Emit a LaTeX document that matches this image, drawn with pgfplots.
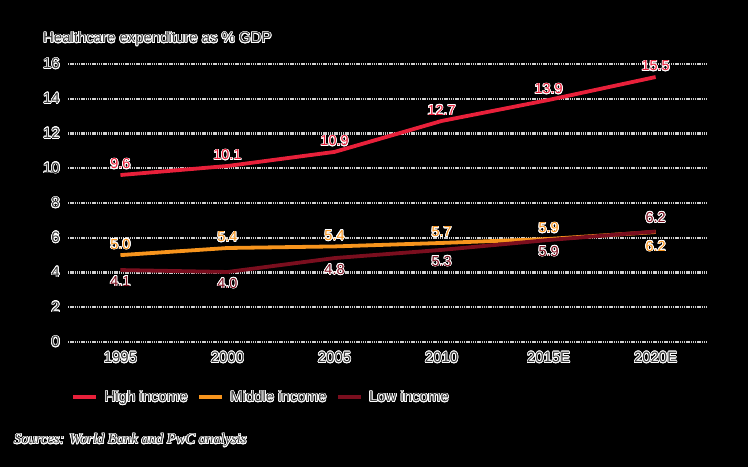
\documentclass[border=0pt]{standalone}
\usepackage{fontspec}
\setmainfont{Liberation Sans}
\newfontfamily\srcfont{Liberation Serif}
\usepackage{pgfplots}
\pgfplotsset{compat=1.18}
\usepackage{contour}
\contourlength{0.7pt}
\contournumber{20}
\definecolor{hi}{HTML}{E8203A}
\definecolor{mid}{HTML}{F7941D}
\definecolor{lo}{HTML}{7A0E1E}
\definecolor{txt}{HTML}{3A3A3A}
\newcommand{\ct}[1]{\contour{white}{#1}}

\pgfplotsset{
  lblabove/.style={draw=none, forget plot, point meta=explicit symbolic,
    nodes near coords={\ct{\pgfplotspointmeta}},
    every node near coord/.append style={inner sep=0pt, anchor=south, yshift=5bp, font=\fontsize{14.5}{16}\selectfont, text=#1}},
  lblbelow/.style={draw=none, forget plot, point meta=explicit symbolic,
    nodes near coords={\ct{\pgfplotspointmeta}},
    every node near coord/.append style={inner sep=0pt, anchor=north, yshift=-6bp, font=\fontsize{14.5}{16}\selectfont, text=#1}},
  dline/.style={#1, forget plot, line width=3.8bp, mark=none},
}

\begin{document}
\begin{tikzpicture}[x=1bp,y=1bp]
\fill[black] (0,0) rectangle (748,467);
\useasboundingbox (0,0) rectangle (748,467);
\node[anchor=base west, inner sep=0pt, text=txt, font=\fontsize{15}{17}\selectfont] at (43,424) {\ct{Healthcare expenditure as \% GDP}};
\node[anchor=base west, inner sep=0pt, text=txt, font=\srcfont\itshape\fontsize{14.6}{16}\selectfont] at (14,23) {\ct{Sources: World Bank and PwC analysis}};
\begin{axis}[
  at={(68bp,125bp)}, anchor=south west,
  scale only axis, width=639bp, height=278bp,
  xmin=-0.49, xmax=5.48, ymin=0, ymax=16,
  clip=false,
  axis line style={draw=none},
  major tick length=0pt,
  ytick={0,2,...,16},
  yticklabels={\ct{0},\ct{2},\ct{4},\ct{6},\ct{8},\ct{10},\ct{12},\ct{14},\ct{16}},
  xtick={0,1,2,3,4,5},
  xticklabels={\ct{1995},\ct{2000},\ct{2005},\ct{2010},\ct{2015E},\ct{2020E}},
  ymajorgrids,
  grid style={draw=white!62!gray, line width=2.2bp, dash pattern=on 1.3bp off 0.9bp},
  tick label style={text=txt, font=\fontsize{15}{17}\selectfont},
  yticklabel style={inner sep=0pt, xshift=-8bp},
  xticklabel style={inner sep=0pt, yshift=-10bp},
  legend columns=3,
  legend style={at={(0.0,-0.198)}, anchor=west, draw=none, fill=none,
    text=txt, font=\fontsize{15}{17}\selectfont,
    nodes={inner sep=0pt},
    /tikz/every odd column/.append style={column sep=6bp},
    /tikz/every even column/.append style={column sep=9bp}},
  legend image code/.code={\draw[#1, line width=4.5bp] (0bp,0bp) -- (23bp,0bp);},
]
\addlegendimage{hi}
\addlegendentry{\ct{High income}}
\addlegendimage{mid}
\addlegendentry{\ct{Middle income}}
\addlegendimage{lo}
\addlegendentry{\ct{Low income}}
% lines
\addplot[dline=hi] coordinates {(0,9.61) (1,10.13) (2,10.94) (3,12.72) (4,13.93) (5,15.25)};
\addplot[dline=mid] coordinates {(0,5.00) (1,5.41) (2,5.50) (3,5.70) (4,5.93) (5,6.33)};
\addplot[dline=lo] coordinates {(0,4.14) (1,4.03) (2,4.83) (3,5.30) (4,5.87) (5,6.36)};
% data labels
\addplot[lblabove=hi] coordinates {(0,9.61) [9.6] (1,10.13) [10.1] (2,10.94) [10.9] (3,12.72) [12.7] (4,13.93) [13.9] (5,15.25) [15.5]};
\addplot[lblabove=mid] coordinates {(0,5.00) [5.0] (1,5.41) [5.4] (2,5.50) [5.4] (3,5.70) [5.7] (4,5.93) [5.9]};
\addplot[lblbelow=mid, every node near coord/.append style={yshift=-3bp}] coordinates {(5,6.33) [6.2]};
\addplot[lblbelow=lo] coordinates {(0,4.14) [4.1] (1,4.03) [4.0] (2,4.83) [4.8] (3,5.30) [5.3] (4,5.87) [5.9]};
\addplot[lblabove=lo, every node near coord/.append style={yshift=3bp}] coordinates {(5,6.36) [6.2]};
\end{axis}
\end{tikzpicture}
\end{document}
